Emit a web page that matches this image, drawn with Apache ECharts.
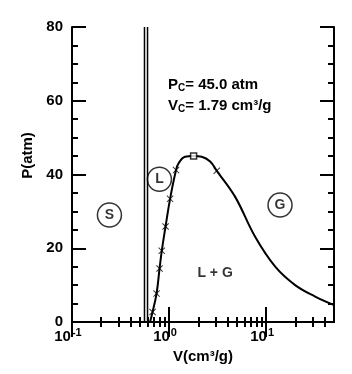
<!DOCTYPE html>
<html>
<head>
<meta charset="utf-8">
<script src="https://cdn.jsdelivr.net/npm/echarts@6/dist/echarts.min.js"></script>
<style>
html,body{margin:0;padding:0;background:#fff;}
#main{width:352px;height:374px;}
</style>
</head>
<body>
<div id="main"></div>
<script>
// 固液共存线 (两条竖线)
var solidLeft = [[0.558, 0], [0.558, 80]];
var solidRight = [[0.600, 0], [0.600, 80]];
// 气液共存曲线
var curveV = [0.637, 0.676, 0.743, 0.798, 0.841, 0.920, 1.024, 1.18, 1.25, 1.46, 1.79, 2.17, 2.65, 3.10, 4.78, 7.7, 12.4, 19.9, 32.0, 50.0];
var curveP = [0.0, 2.7, 7.7, 14.5, 19.3, 25.9, 33.4, 41.2, 43.0, 44.8, 45.0, 44.8, 43.5, 41.0, 34.0, 23.1, 15.0, 10.0, 6.9, 4.6];
// 叉号数据点
var crossV = [0.676, 0.743, 0.798, 0.841, 0.920, 1.024, 1.18, 3.10];
var crossP = [2.7, 7.7, 14.5, 19.3, 25.9, 33.4, 41.2, 41.0];
// 临界点
var critical = [[1.79, 45.0]];
// 区域标记
var regionNames = ['S', 'L', 'G'];
var regionPos = [[0.243, 29.0], [0.795, 38.7], [13.9, 31.7]];
// 刻度
var xMajor = [0.1, 1, 10];
var xMinor = [0.2, 0.3, 0.4, 0.5, 0.6, 0.7, 0.8, 0.9, 2, 3, 4, 5, 6, 7, 8, 9, 20, 30, 40];
var yMajor = [0, 20, 40, 60, 80];
var yMinor = [5, 10, 15, 25, 30, 35, 45, 50, 55, 65, 70, 75];

var font = 'Liberation Sans';
var chart = echarts.init(document.getElementById('main'));

function zip(a, b) {
	var out = [];
	for (var i = 0; i < a.length; i++) out.push([a[i], b[i]]);
	return out;
}

function xAxisDef(pos, ticks, len, showLine, showLabel) {
	return {
		type: 'log', logBase: 10, min: 0.1, max: 50, position: pos,
		axisLine: {show: showLine, lineStyle: {color: '#000', width: 2}},
		axisTick: {show: true, inside: true, length: len, customValues: ticks, lineStyle: {color: '#000', width: 2}},
		axisLabel: {
			show: showLabel, customValues: xMajor, margin: 5, color: '#000',
			formatter: function (v) {
				return '{b|10}{s|' + Math.round(Math.log10(v)) + '}';
			},
			rich: {
				b: {fontFamily: font, fontSize: 15, fontWeight: 'bold', color: '#000'},
				s: {fontFamily: font, fontSize: 11, fontWeight: 'bold', color: '#000', padding: [0, 8, 9, 1]}
			}
		},
		splitLine: {show: false}
	};
}

function yAxisDef(pos, ticks, len, showLine, showLabel) {
	return {
		type: 'value', min: 0, max: 80, interval: 20, position: pos,
		axisLine: {show: showLine, lineStyle: {color: '#000', width: 2}},
		axisTick: {show: true, inside: true, length: len, customValues: ticks, lineStyle: {color: '#000', width: 2}},
		axisLabel: {show: showLabel, margin: 9, color: '#000', fontFamily: font, fontSize: 15, fontWeight: 'bold'},
		splitLine: {show: false}
	};
}

var xb = xAxisDef('bottom', xMajor, 15, true, true);
xb.name = 'V(cm\u00b3/g)';
xb.nameLocation = 'middle';
xb.nameGap = 24;
xb.nameTextStyle = {color: '#000', fontFamily: font, fontSize: 15, fontWeight: 'bold'};

var yl = yAxisDef('left', yMajor, 14, true, true);
yl.name = 'P(atm)';
yl.nameLocation = 'middle';
yl.nameGap = 25;
yl.nameTextStyle = {color: '#000', fontFamily: font, fontSize: 15, fontWeight: 'bold', padding: [0, 0, 0, 38]};

var option = {
	backgroundColor: '#fff',
	animation: false,
	grid: {left: 72, right: 18, top: 27, bottom: 52},
	xAxis: [
		xb,
		xAxisDef('bottom', xMinor, 5, false, false),
		xAxisDef('top', xMajor, 15, true, false),
		xAxisDef('top', xMinor, 5, false, false)
	],
	yAxis: [
		yl,
		yAxisDef('left', yMinor, 6, false, false),
		yAxisDef('right', yMajor, 14, true, false),
		yAxisDef('right', yMinor, 6, false, false)
	],
	graphic: [{
		type: 'text', left: 168, top: 77,
		style: {
			text: '{t|P}{c|C}{t|= 45.0 atm}\n{t|V}{c|C}{t|= 1.79 cm\u00b3/g}',
			rich: {
				t: {fontFamily: font, fontSize: 15, fontWeight: 'bold', fill: '#000', lineHeight: 21},
				c: {fontFamily: font, fontSize: 10, fontWeight: 'bold', fill: '#000', padding: [6, 0, 0, 0], lineHeight: 21}
			}
		}
	}],
	series: [
		{type: 'line', data: solidLeft, symbol: 'none', lineStyle: {color: '#000', width: 1.5}},
		{type: 'line', data: solidRight, symbol: 'none', lineStyle: {color: '#000', width: 1.5}},
		{type: 'line', data: zip(curveV, curveP), symbol: 'none', smooth: 0.4, lineStyle: {color: '#000', width: 2}},
		{
			type: 'scatter', data: zip(crossV, crossP), symbolSize: 7,
			symbol: 'path://M0,1L1,0L5,4L9,0L10,1L6,5L10,9L9,10L5,6L1,10L0,9L4,5Z',
			itemStyle: {color: '#000'}
		},
		{
			type: 'scatter', data: critical, symbol: 'rect', symbolSize: 6,
			itemStyle: {color: '#fff', borderColor: '#000', borderWidth: 1.5}, z: 5
		},
		{
			type: 'scatter', symbol: 'circle', symbolSize: 24,
			data: regionPos.map(function (p, i) { return {value: p, name: regionNames[i]}; }),
			itemStyle: {color: 'rgba(255,255,255,0)', borderColor: '#000', borderWidth: 1.5},
			label: {show: true, position: 'inside', formatter: '{b}', color: '#000', fontFamily: font, fontSize: 14, fontWeight: 'bold'}
		},
		{
			type: 'scatter', symbolSize: 0, data: [{value: [2.98, 13.3], name: 'L + G'}],
			label: {show: true, position: 'inside', formatter: '{b}', color: '#000', fontFamily: font, fontSize: 14, fontWeight: 'bold'}
		}
	]
};
chart.setOption(option);
</script>
</body>
</html>
